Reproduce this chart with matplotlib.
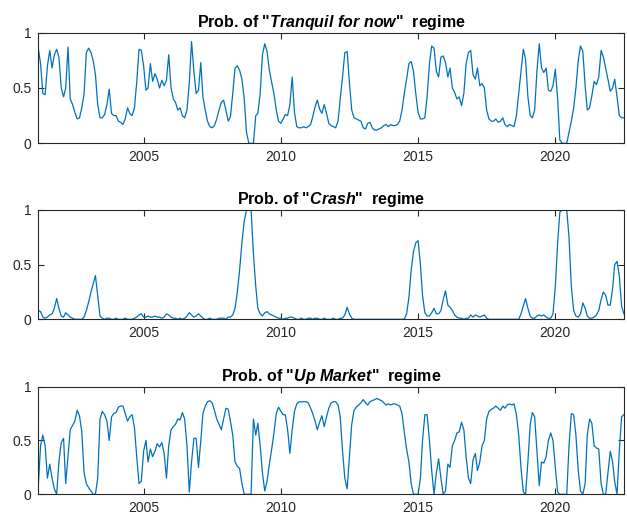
import matplotlib
matplotlib.use("Agg")
import matplotlib.pyplot as plt
import matplotlib.dates as mdates
import pandas as pd

plt.rcParams["font.family"] = ["Liberation Sans", "DejaVu Sans"]
plt.rcParams["mathtext.fontset"] = "custom"
plt.rcParams["mathtext.it"] = "Liberation Sans:italic:bold"
plt.rcParams["mathtext.rm"] = "Liberation Sans:bold"

# monthly smoothed regime probabilities, Mar 2001 .. Jul 2022
dates = pd.date_range("2001-03-01", periods=257, freq="MS")

tranquil = [
    0.86, 0.72, 0.45, 0.44, 0.70, 0.84, 0.68, 0.80, 0.85, 0.78, 0.50, 0.42,
    0.50, 0.87, 0.40, 0.35, 0.28, 0.22, 0.23, 0.32, 0.45, 0.82, 0.86, 0.82,
    0.75, 0.62, 0.35, 0.23, 0.23, 0.26, 0.35, 0.49, 0.27, 0.25, 0.25, 0.20,
    0.19, 0.17, 0.22, 0.32, 0.27, 0.25, 0.32, 0.55, 0.85, 0.84, 0.70, 0.48,
    0.50, 0.72, 0.56, 0.63, 0.58, 0.50, 0.57, 0.52, 0.57, 0.80, 0.50, 0.40,
    0.37, 0.30, 0.32, 0.25, 0.23, 0.30, 0.55, 0.92, 0.65, 0.45, 0.48, 0.73,
    0.42, 0.30, 0.20, 0.15, 0.14, 0.16, 0.22, 0.30, 0.37, 0.39, 0.30, 0.20,
    0.24, 0.45, 0.68, 0.70, 0.66, 0.58, 0.40, 0.10, 0.00, 0.00, 0.00, 0.25,
    0.27, 0.45, 0.80, 0.90, 0.83, 0.66, 0.55, 0.45, 0.30, 0.20, 0.18, 0.22,
    0.26, 0.25, 0.35, 0.60, 0.28, 0.15, 0.14, 0.14, 0.15, 0.14, 0.15, 0.17,
    0.24, 0.33, 0.39, 0.31, 0.27, 0.35, 0.27, 0.18, 0.16, 0.15, 0.14, 0.20,
    0.40, 0.60, 0.82, 0.83, 0.55, 0.30, 0.23, 0.22, 0.21, 0.20, 0.14, 0.13,
    0.18, 0.19, 0.14, 0.12, 0.12, 0.13, 0.14, 0.16, 0.17, 0.15, 0.17, 0.16,
    0.16, 0.17, 0.20, 0.30, 0.45, 0.58, 0.72, 0.74, 0.65, 0.45, 0.28, 0.22,
    0.22, 0.23, 0.42, 0.72, 0.88, 0.86, 0.65, 0.60, 0.78, 0.79, 0.73, 0.60,
    0.68, 0.50, 0.46, 0.40, 0.42, 0.34, 0.45, 0.72, 0.82, 0.84, 0.62, 0.58,
    0.68, 0.52, 0.54, 0.50, 0.30, 0.22, 0.20, 0.20, 0.22, 0.19, 0.20, 0.23,
    0.17, 0.15, 0.17, 0.16, 0.15, 0.25, 0.45, 0.65, 0.85, 0.76, 0.42, 0.25,
    0.23, 0.30, 0.65, 0.90, 0.68, 0.64, 0.68, 0.48, 0.47, 0.52, 0.67, 0.40,
    0.03, 0.00, 0.00, 0.00, 0.10, 0.20, 0.32, 0.50, 0.75, 0.88, 0.83, 0.52,
    0.30, 0.32, 0.43, 0.56, 0.53, 0.60, 0.84, 0.78, 0.68, 0.58, 0.47, 0.50,
    0.58, 0.42, 0.25, 0.23, 0.23,
]

crash = [
    0.08, 0.07, 0.02, 0.01, 0.02, 0.04, 0.05, 0.10, 0.19, 0.10, 0.03, 0.02,
    0.06, 0.04, 0.02, 0.01, 0.00, 0.00, 0.00, 0.00, 0.02, 0.08, 0.16, 0.25,
    0.32, 0.40, 0.22, 0.03, 0.01, 0.00, 0.01, 0.01, 0.00, 0.00, 0.01, 0.00,
    0.00, 0.00, 0.01, 0.00, 0.00, 0.00, 0.01, 0.02, 0.04, 0.05, 0.02, 0.02,
    0.03, 0.02, 0.02, 0.03, 0.02, 0.02, 0.01, 0.02, 0.05, 0.04, 0.02, 0.01,
    0.01, 0.00, 0.01, 0.00, 0.01, 0.03, 0.06, 0.04, 0.02, 0.03, 0.05, 0.03,
    0.01, 0.00, 0.00, 0.01, 0.00, 0.00, 0.00, 0.01, 0.01, 0.01, 0.00, 0.02,
    0.02, 0.04, 0.10, 0.25, 0.45, 0.70, 0.90, 1.00, 1.00, 1.00, 0.60, 0.30,
    0.10, 0.05, 0.03, 0.06, 0.07, 0.05, 0.04, 0.03, 0.02, 0.01, 0.01, 0.00,
    0.01, 0.01, 0.02, 0.02, 0.01, 0.00, 0.00, 0.01, 0.00, 0.00, 0.01, 0.01,
    0.00, 0.01, 0.01, 0.00, 0.00, 0.01, 0.00, 0.00, 0.00, 0.01, 0.00, 0.00,
    0.01, 0.01, 0.04, 0.11, 0.05, 0.01, 0.00, 0.00, 0.00, 0.00, 0.00, 0.00,
    0.00, 0.00, 0.00, 0.00, 0.00, 0.00, 0.00, 0.00, 0.00, 0.00, 0.00, 0.00,
    0.00, 0.00, 0.00, 0.00, 0.00, 0.05, 0.20, 0.45, 0.62, 0.70, 0.72, 0.50,
    0.22, 0.06, 0.03, 0.03, 0.06, 0.10, 0.05, 0.05, 0.08, 0.18, 0.26, 0.13,
    0.11, 0.08, 0.04, 0.02, 0.01, 0.01, 0.00, 0.01, 0.01, 0.04, 0.02, 0.04,
    0.03, 0.02, 0.03, 0.04, 0.01, 0.00, 0.00, 0.00, 0.00, 0.00, 0.00, 0.00,
    0.00, 0.00, 0.00, 0.00, 0.00, 0.00, 0.00, 0.05, 0.12, 0.19, 0.10, 0.03,
    0.01, 0.01, 0.03, 0.04, 0.03, 0.04, 0.02, 0.01, 0.01, 0.05, 0.30, 0.70,
    0.98, 1.00, 1.00, 1.00, 0.75, 0.30, 0.08, 0.03, 0.02, 0.05, 0.15, 0.10,
    0.03, 0.01, 0.01, 0.02, 0.04, 0.08, 0.18, 0.25, 0.22, 0.13, 0.13, 0.28,
    0.50, 0.53, 0.40, 0.12, 0.05,
]

up_market = [
    0.07, 0.45, 0.55, 0.45, 0.15, 0.28, 0.15, 0.05, 0.00, 0.30, 0.48, 0.52,
    0.10, 0.35, 0.60, 0.64, 0.68, 0.78, 0.73, 0.58, 0.20, 0.10, 0.06, 0.03,
    0.00, 0.00, 0.15, 0.70, 0.77, 0.74, 0.68, 0.50, 0.72, 0.75, 0.76, 0.81,
    0.82, 0.82, 0.75, 0.68, 0.72, 0.74, 0.62, 0.35, 0.10, 0.12, 0.40, 0.50,
    0.30, 0.42, 0.35, 0.40, 0.47, 0.44, 0.48, 0.38, 0.15, 0.45, 0.60, 0.63,
    0.65, 0.70, 0.69, 0.76, 0.70, 0.45, 0.02, 0.30, 0.52, 0.52, 0.25, 0.50,
    0.75, 0.82, 0.86, 0.87, 0.85, 0.78, 0.70, 0.65, 0.60, 0.70, 0.80, 0.79,
    0.68, 0.55, 0.30, 0.26, 0.24, 0.10, 0.00, 0.00, 0.00, 0.00, 0.70, 0.55,
    0.66, 0.45, 0.20, 0.03, 0.12, 0.28, 0.42, 0.57, 0.75, 0.81, 0.77, 0.74,
    0.74, 0.60, 0.38, 0.60, 0.77, 0.84, 0.86, 0.86, 0.86, 0.86, 0.85, 0.80,
    0.75, 0.68, 0.60, 0.67, 0.73, 0.63, 0.72, 0.80, 0.85, 0.86, 0.86, 0.83,
    0.72, 0.40, 0.15, 0.05, 0.35, 0.65, 0.78, 0.81, 0.83, 0.85, 0.88, 0.85,
    0.83, 0.86, 0.87, 0.88, 0.89, 0.88, 0.87, 0.85, 0.83, 0.84, 0.83, 0.84,
    0.84, 0.83, 0.82, 0.75, 0.58, 0.42, 0.30, 0.10, 0.00, 0.00, 0.00, 0.15,
    0.50, 0.74, 0.74, 0.50, 0.22, 0.00, 0.20, 0.33, 0.15, 0.00, 0.03, 0.28,
    0.25, 0.45, 0.50, 0.57, 0.58, 0.67, 0.60, 0.35, 0.15, 0.10, 0.32, 0.38,
    0.22, 0.30, 0.45, 0.50, 0.70, 0.77, 0.79, 0.80, 0.82, 0.80, 0.78, 0.82,
    0.80, 0.83, 0.84, 0.83, 0.84, 0.74, 0.55, 0.25, 0.02, 0.00, 0.30, 0.65,
    0.76, 0.72, 0.40, 0.08, 0.30, 0.29, 0.35, 0.50, 0.57, 0.50, 0.25, 0.02,
    0.00, 0.00, 0.00, 0.00, 0.45, 0.75, 0.74, 0.55, 0.22, 0.03, 0.00, 0.10,
    0.55, 0.70, 0.66, 0.45, 0.43, 0.42, 0.10, 0.00, 0.00, 0.20, 0.40, 0.30,
    0.12, 0.00, 0.40, 0.72, 0.74,
]

series = [tranquil, crash, up_market]
titles = [
    r'Prob. of "$\it{Tranquil\ for\ now}$"  regime',
    r'Prob. of "$\it{Crash}$"  regime',
    r'Prob. of "$\it{Up\ Market}$"  regime',
]
y_ticks = [0, 0.5, 1]
y_labels = ["0", "0.5", "1"]

line_color = "#0072BD"
axis_color = "#262626"

fig = plt.figure(figsize=(6.27, 5.18), dpi=100)

# [left, bottom, width, height] for each panel
boxes = [
    [0.061, 0.7234, 0.934, 0.2135],
    [0.061, 0.3836, 0.934, 0.2110],
    [0.061, 0.0458, 0.934, 0.2077],
]

for box, values, title in zip(boxes, series, titles):
    ax = fig.add_axes(box)
    ax.plot(dates, values, color=line_color, lw=0.9)
    ax.set_xlim(dates[0], dates[-1])
    ax.set_ylim(0, 1)
    ax.set_yticks(y_ticks)
    ax.set_yticklabels(y_labels)
    ax.xaxis.set_major_locator(mdates.YearLocator(5))
    ax.xaxis.set_major_formatter(mdates.DateFormatter("%Y"))
    ax.tick_params(direction="in", length=4, width=0.8, colors=axis_color,
                   labelsize=10, top=True, right=True, pad=5)
    for spine in ax.spines.values():
        spine.set_color(axis_color)
        spine.set_linewidth(0.8)
    ax.set_title(title, fontsize=11.5, fontweight="bold", color="black", pad=4)

fig.savefig("out.png", dpi=100)
